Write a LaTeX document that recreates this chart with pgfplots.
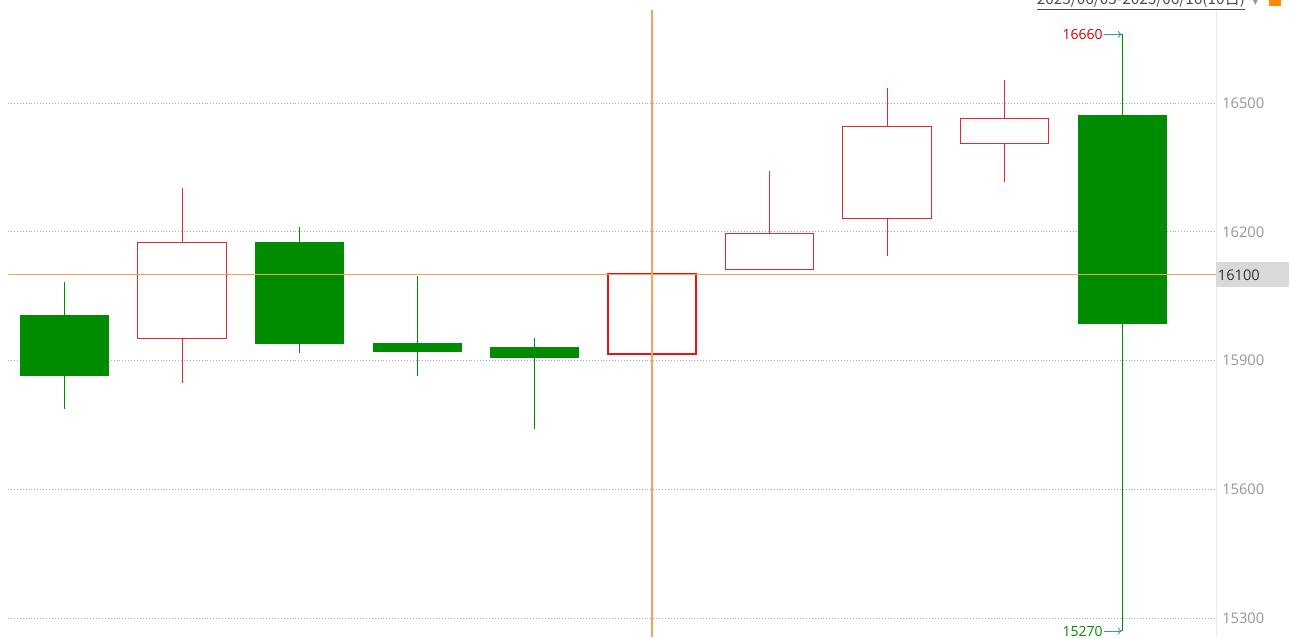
\documentclass[border=0pt]{standalone}
\usepackage{fontspec}
\setmainfont{Open Sans}
\newfontfamily\cjk{Noto Sans CJK SC}
\newfontfamily\sym{DejaVu Sans}
\usepackage{pgfplots}
\pgfplotsset{compat=1.18}
\usetikzlibrary{arrows.meta}

\definecolor{kgreen}{RGB}{0,140,0}
\definecolor{kred}{RGB}{222,45,50}
\definecolor{kredsel}{RGB}{226,20,20}
\definecolor{cross}{RGB}{242,164,90}
\definecolor{labgray}{RGB}{150,150,150}
\definecolor{arrowc}{RGB}{60,150,170}

\begin{document}
\begin{tikzpicture}
\useasboundingbox (0,0) rectangle (967.5pt,477.75pt);
% date range, cut by the top edge
\node[anchor=base east, inner sep=0pt, text=black!70, font=\cjk\fontsize{11.5}{13}\selectfont]
  at (934pt,474.6pt) {\underline{2023/06/05-2023/06/16(10日)}};
\node[anchor=base west, inner sep=0pt, text=labgray, font=\sym\fontsize{6}{7}\selectfont]
  at (939pt,474.5pt) {▼};
\fill[orange!90!yellow] (952pt,473.5pt) rectangle (961pt,480pt);

\begin{axis}[
    at={(6pt,0pt)}, anchor=south west,
    scale only axis, width=906pt, height=470.25pt,
    xmin=-0.481, xmax=9.80,
    ymin=15256, ymax=16717,
    clip=false,
    axis x line=none,
    axis y line*=right,
    y axis line style={draw=black!8, line width=0.75pt},
    ytick={15300,15600,15900,16200,16500},
    scaled y ticks=false,
    yticklabel={\pgfmathprintnumber[fixed,precision=0,1000 sep={}]{\tick}},
    major tick length=0pt,
    ymajorgrids,
    grid style={draw=gray!65, line width=0.6pt, dash pattern=on 0.6pt off 1.6pt},
    yticklabel style={anchor=west, inner sep=0pt, xshift=4.5pt, text=labgray,
      font=\fontsize{11}{13}\selectfont},
    /pgf/number format/assume math mode=true,
    unbounded coords=jump,
]
% wicks
\addplot[kgreen, line width=0.75pt, mark=none] coordinates {
  (0,16083) (0,15787) (0,nan)
  (2,16211) (2,15917) (2,nan)
  (3,16097) (3,15864) (3,nan)
  (4,15952) (4,15740) (4,nan)
  (9,16660) (9,15270)
};
\addplot[kred, line width=0.75pt, mark=none] coordinates {
  (1,16302) (1,15848) (1,nan)
  (6,16341) (6,16113) (6,nan)
  (7,16535) (7,16143) (7,nan)
  (8,16553) (8,16316)
};
\addplot[kredsel, line width=1.5pt, mark=none] coordinates {(5,16174) (5,15852)};

% green (falling) bodies: open above close
\addplot[draw=kgreen, fill=kgreen, line width=0.5pt] coordinates {(-0.375,16006) (0.375,16006) (0.375,15866) (-0.375,15866)} --cycle;
\addplot[draw=kgreen, fill=kgreen, line width=0.5pt] coordinates {(1.625,16176) (2.375,16176) (2.375,15941) (1.625,15941)} --cycle;
\addplot[draw=kgreen, fill=kgreen, line width=0.5pt] coordinates {(2.625,15941) (3.375,15941) (3.375,15922) (2.625,15922)} --cycle;
\addplot[draw=kgreen, fill=kgreen, line width=0.5pt] coordinates {(3.625,15931) (4.375,15931) (4.375,15908) (3.625,15908)} --cycle;
\addplot[draw=kgreen, fill=kgreen, line width=0.5pt] coordinates {(8.625,16472) (9.375,16472) (9.375,15987) (8.625,15987)} --cycle;

% red (rising) hollow bodies
\addplot[draw=kred, fill=white, line width=0.75pt] coordinates {(0.625,15952) (1.375,15952) (1.375,16176) (0.625,16176)} --cycle;
\addplot[draw=kredsel, fill=white, line width=1.5pt] coordinates {(4.625,15915) (5.375,15915) (5.375,16101) (4.625,16101)} --cycle;
\addplot[draw=kred, fill=white, line width=0.75pt] coordinates {(5.625,16113) (6.375,16113) (6.375,16197) (5.625,16197)} --cycle;
\addplot[draw=kred, fill=white, line width=0.75pt] coordinates {(6.625,16232) (7.375,16232) (7.375,16446) (6.625,16446)} --cycle;
\addplot[draw=kred, fill=white, line width=0.75pt] coordinates {(7.625,16407) (8.375,16407) (8.375,16465) (7.625,16465)} --cycle;

% crosshair
\addplot[cross, line width=1pt, mark=none] coordinates {(-0.481,16100) (9.80,16100)};
\addplot[cross, line width=1pt, mark=none] coordinates {(5,15256) (5,16717)};
\node[anchor=west, fill=black!15, inner xsep=1.2pt, inner ysep=0pt,
  minimum height=18.75pt, text width=52pt, text=black!80,
  font=\fontsize{11}{13}\selectfont] at (axis cs:9.80,16100) {16100};

% high / low markers of the range
\draw[arrowc, line width=0.6pt, -{To[length=3pt,width=5pt]}] (axis cs:8.847,16660) -- (axis cs:9,16660);
\node[anchor=east, inner sep=0.8pt, text=red!85!black, font=\fontsize{10.5}{12}\selectfont]
  at (axis cs:8.847,16660) {16660};
\draw[arrowc, line width=0.6pt, -{To[length=3pt,width=5pt]}] (axis cs:8.847,15270) -- (axis cs:9,15270);
\node[anchor=east, inner sep=0.8pt, text=kgreen, font=\fontsize{10.5}{12}\selectfont]
  at (axis cs:8.847,15270) {15270};
\end{axis}
\end{tikzpicture}
\end{document}
